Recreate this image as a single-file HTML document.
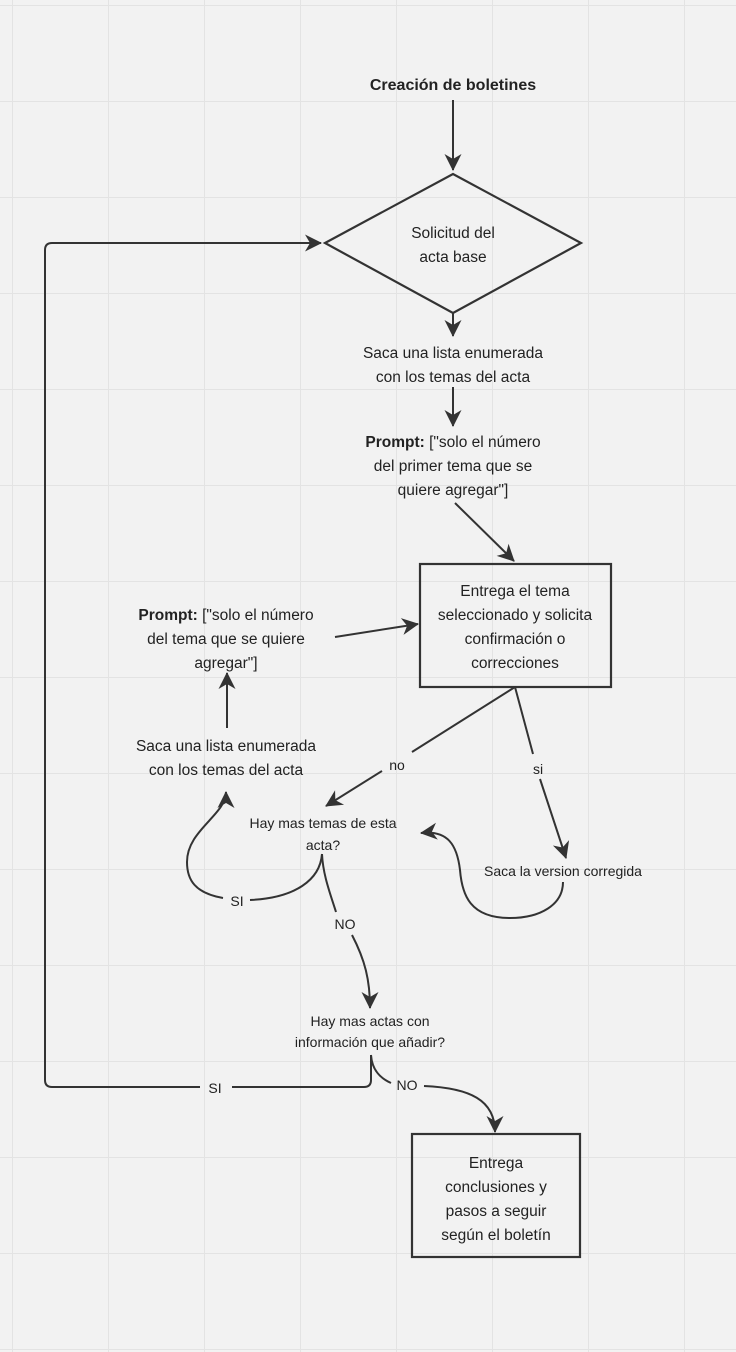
<!DOCTYPE html>
<html><head><meta charset="utf-8"><style>
html,body{margin:0;padding:0;background:#f2f2f2;}
svg{display:block;}
text{font-family:"Liberation Sans",sans-serif;fill:#222;font-size:15.5px;text-anchor:middle;}
.s{font-size:14px;}
</style></head><body>
<svg width="736" height="1352" viewBox="0 0 736 1352" xmlns="http://www.w3.org/2000/svg">
<defs>
<pattern id="g" x="12" y="5" width="96" height="96" patternUnits="userSpaceOnUse">
<path d="M0 0H96M0 0V96" stroke="#e3e3e3" stroke-width="2" fill="none"/>
</pattern>
<marker id="a" viewBox="-17 -10 19 20" refX="0" refY="0" markerWidth="19" markerHeight="20" markerUnits="userSpaceOnUse" orient="auto" overflow="visible">
<path d="M-16,-8.5 L1,0 L-16,8.5 L-11,0 Z" fill="#333"/>
</marker>
</defs>
<rect width="736" height="1352" fill="url(#g)"/>
<g stroke="#333" stroke-width="2" fill="none">
<path d="M453 100V170" marker-end="url(#a)"/>
<polygon points="325,243 453,174 581,243 453,313" stroke-width="2.2"/>
<path d="M371 1055V1080Q371 1087 364 1087H232M200 1087H52Q45 1087 45 1080V250Q45 243 52 243H321" marker-end="url(#a)"/>
<path d="M453 313V336" marker-end="url(#a)"/>
<path d="M453 387V426" marker-end="url(#a)"/>
<path d="M455 503L514 561" marker-end="url(#a)"/>
<rect x="420" y="564" width="191" height="123" stroke-width="2.2"/>
<path d="M335 637L418 624" marker-end="url(#a)"/>
<path d="M227 728V673" marker-end="url(#a)"/>
<path d="M515 687L412 752M382 771L326 806" marker-end="url(#a)"/>
<path d="M515 687L533 754M540 779L566 858" marker-end="url(#a)"/>
<path d="M563 882C563 905 540 918 510 918C470 918 462 895 460 870C457 845 448 830 421 833" marker-end="url(#a)"/>
<path d="M322 854C320 880 295 898 250 900M223 898C195 893 187 880 187 862C187 830 226 815 226 792" marker-end="url(#a)"/>
<path d="M322 854C323 875 330 893 336 912M352 935C365 960 370 980 370 1008" marker-end="url(#a)"/>
<path d="M371 1055C372 1070 380 1078 391 1083M424 1086C470 1088 495 1100 495 1132" marker-end="url(#a)"/>
<rect x="412" y="1134" width="168" height="123" stroke-width="2.2"/>
</g>
<text x="453" y="90" style="font-weight:bold;font-size:16px">Creación de boletines</text>
<text x="453" y="238">Solicitud del</text>
<text x="453" y="262">acta base</text>
<text x="453" y="358">Saca una lista enumerada</text>
<text x="453" y="382">con los temas del acta</text>
<text x="453" y="447"><tspan style="font-weight:bold">Prompt:</tspan> ["solo el número</text>
<text x="453" y="471">del primer tema que se</text>
<text x="453" y="495">quiere agregar"]</text>
<text x="515" y="596">Entrega el tema</text>
<text x="515" y="620">seleccionado y solicita</text>
<text x="515" y="644">confirmación o</text>
<text x="515" y="668">correcciones</text>
<text x="226" y="620"><tspan style="font-weight:bold">Prompt:</tspan> ["solo el número</text>
<text x="226" y="644">del tema que se quiere</text>
<text x="226" y="668">agregar"]</text>
<text x="226" y="751">Saca una lista enumerada</text>
<text x="226" y="775">con los temas del acta</text>
<text x="397" y="770" class="s">no</text>
<text x="538" y="774" class="s">si</text>
<text x="323" y="828" class="s">Hay mas temas de esta</text>
<text x="323" y="850" class="s">acta?</text>
<text x="563" y="876" class="s">Saca la version corregida</text>
<text x="237" y="906" class="s">SI</text>
<text x="345" y="929" class="s">NO</text>
<text x="370" y="1026" class="s">Hay mas actas con</text>
<text x="370" y="1047" class="s">información que añadir?</text>
<text x="215" y="1093" class="s">SI</text>
<text x="407" y="1090" class="s">NO</text>
<text x="496" y="1168">Entrega</text>
<text x="496" y="1192">conclusiones y</text>
<text x="496" y="1216">pasos a seguir</text>
<text x="496" y="1240">según el boletín</text>
</svg>
</body></html>
